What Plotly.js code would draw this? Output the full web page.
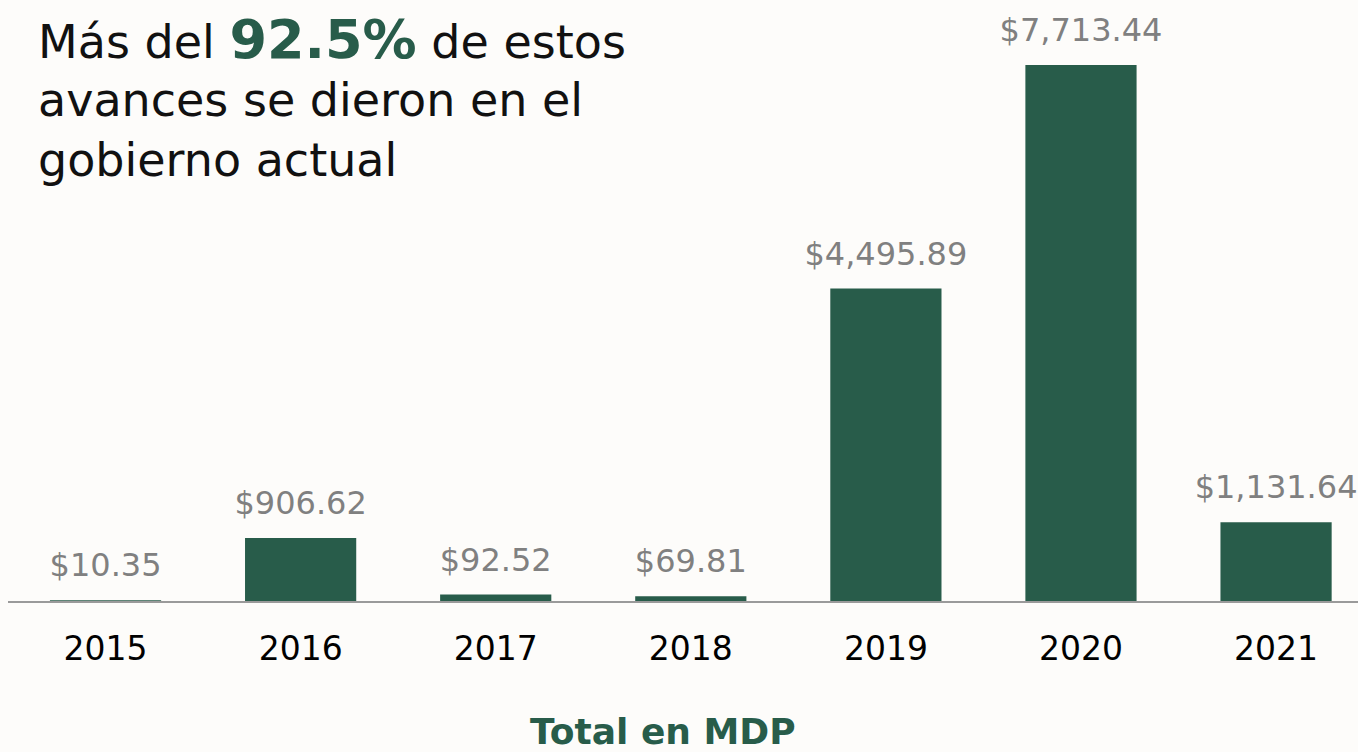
<!DOCTYPE html>
<html>
<head>
<meta charset="utf-8">
<script src="https://cdn.plot.ly/plotly-3.0.1.min.js"></script>
<style>
  html, body { margin: 0; padding: 0; background: #fdfcfa; }
  #chart { width: 1358px; height: 752px; }
</style>
</head>
<body>
<div id="chart"></div>
<script>
const years = ["2015", "2016", "2017", "2018", "2019", "2020", "2021"];
const totals = [10.35, 906.62, 92.52, 69.81, 4495.89, 7713.44, 1131.64];
const labels = ["$10.35", "$906.62", "$92.52", "$69.81", "$4,495.89", "$7,713.44", "$1,131.64"];

const green = "#285c4a";
const gray = "#808080";
const font = "DejaVu Sans, Noto Sans, sans-serif";

const bars = {
  type: "bar",
  x: years,
  y: totals,
  marker: { color: green },
  hoverinfo: "skip"
};

const valueText = {
  type: "scatter",
  mode: "markers+text",
  x: years,
  y: totals,
  text: labels,
  textposition: "top center",
  textfont: { family: font, size: 32, color: gray },
  marker: { size: 24, opacity: 0 },
  cliponaxis: false,
  hoverinfo: "skip"
};

const titleLines = [
  { text: "Más del <span style='font-size:54px;color:" + green + "'><b>92.5%</b></span> de estos", y: 39 },
  { text: "avances se dieron en el", y: 100 },
  { text: "gobierno actual", y: 160 }
].map(l => ({
  xref: "paper", yref: "paper",
  x: (36 - 8) / 1350, y: (601 - l.y) / 601,
  xanchor: "left", yanchor: "middle",
  text: l.text, showarrow: false, align: "left",
  font: { family: font, size: 46, color: "#111111" }
}));

const footer = {
  xref: "paper", yref: "paper",
  x: (663 - 8) / 1350, y: (601 - 731) / 601,
  xanchor: "center", yanchor: "middle",
  text: "<b>Total en MDP</b>", showarrow: false,
  font: { family: font, size: 36, color: green }
};

const layout = {
  width: 1358, height: 752,
  margin: { l: 8, r: 0, t: 0, b: 151 },
  paper_bgcolor: "#fdfcfa",
  plot_bgcolor: "rgba(0,0,0,0)",
  bargap: 0.43,
  showlegend: false,
  xaxis: {
    type: "category",
    range: [-0.5, 6.42],
    showline: true, linecolor: "#9a9a9a", linewidth: 2,
    ticks: "", showgrid: false, zeroline: false,
    tickfont: { family: font, size: 33, color: "#000000" },
    ticklabelstandoff: 17
  },
  yaxis: {
    range: [0, 8649],
    visible: false, showgrid: false, zeroline: false
  },
  annotations: titleLines.concat([footer])
};

Plotly.newPlot("chart", [bars, valueText], layout, { displayModeBar: false, staticPlot: true });
</script>
</body>
</html>
